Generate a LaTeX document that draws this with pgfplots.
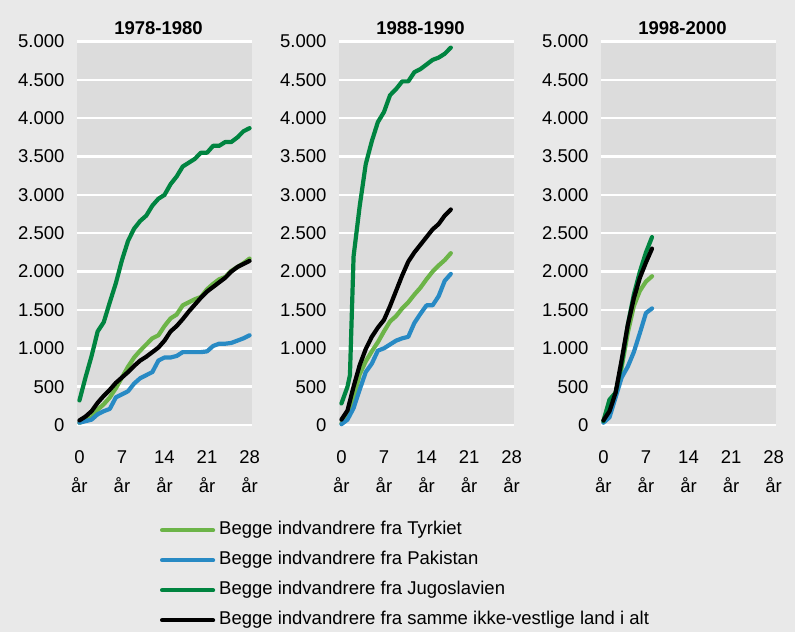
\documentclass[border=0pt]{standalone}
\usepackage{fontspec}
\setmainfont{Liberation Sans}
\usepackage{pgfplots}
\pgfplotsset{compat=1.18}
\definecolor{bgout}{RGB}{233,233,233}
\definecolor{bgin}{RGB}{220,220,220}
\definecolor{tyrk}{RGB}{108,180,72}
\definecolor{paki}{RGB}{40,138,196}
\definecolor{jugo}{RGB}{0,132,64}
\begin{document}
\begin{tikzpicture}
\fill[bgout] (0bp,0bp) rectangle (795bp,632bp);
\path[use as bounding box] (0bp,0bp) rectangle (795bp,632bp);
\pgfplotsset{
  panel/.style={
    scale only axis, width=175bp, height=383.5bp,
    anchor=south west,
    xmin=-0.4, xmax=28.4, ymin=0, ymax=5000,
    axis background/.style={fill=bgin},
    axis line style={draw=none},
    major tick length=0pt,
    ytick={0,500,...,5000},
    ymajorgrids,
    major grid style={white, line width=2.5bp},
    xtick={0,7,14,21,28},
    xticklabels={0\\år,7\\år,14\\år,21\\år,28\\år},
    xticklabel style={align=center, font=\fontsize{18.5bp}{29bp}\selectfont, yshift=-22bp},
    yticklabel style={font=\fontsize{18.5bp}{22bp}\selectfont, xshift=-9bp},
    /pgf/number format/.cd, 1000 sep={.}, assume math mode=true, /pgfplots/.cd,
    every axis title/.style={at={(0.5,1)}, anchor=south, yshift=3bp, xshift=-6bp, font=\bfseries\fontsize{18.5bp}{22bp}\selectfont},
    every axis plot/.append style={line width=4.2bp, line join=round, line cap=round},
    clip=false,
  }
}
\begin{axis}[panel, at={(77bp,207bp)}, title={1978-1980},
  legend style={at={(axis description cs:0.4743,-0.2516)}, anchor=north west,
    draw=none, fill=none, inner sep=0pt, outer sep=0pt,
    font=\fontsize{18.5bp}{22bp}\selectfont,
    nodes={text height=13.5bp, text depth=4bp, inner sep=0bp},
    row sep=12.5bp, column sep=4bp},
  legend cell align=left,
  legend image code/.code={\draw[#1, line cap=round] (0bp,0bp) -- (51bp,0bp);}]
\addplot[tyrk] coordinates {(0,30)(1,60)(2,100)(3,200)(4,270)(5,360)(6,480)(7,620)(8,760)(9,880)(10,970)(11,1050)(12,1130)(13,1170)(14,1290)(15,1390)(16,1440)(17,1560)(18,1600)(19,1640)(20,1670)(21,1770)(22,1840)(23,1900)(24,1930)(25,2010)(26,2060)(27,2110)(28,2170)};
\addlegendentry{Begge indvandrere fra Tyrkiet}
\addplot[paki] coordinates {(0,30)(1,50)(2,70)(3,140)(4,180)(5,210)(6,360)(7,400)(8,440)(9,540)(10,610)(11,650)(12,690)(13,840)(14,880)(15,880)(16,900)(17,950)(18,950)(19,950)(20,950)(21,960)(22,1030)(23,1060)(24,1060)(25,1070)(26,1100)(27,1130)(28,1170)};
\addlegendentry{Begge indvandrere fra Pakistan}
\addplot[jugo] coordinates {(0,320)(1,620)(2,900)(3,1220)(4,1340)(5,1600)(6,1850)(7,2150)(8,2400)(9,2560)(10,2660)(11,2730)(12,2860)(13,2950)(14,3000)(15,3140)(16,3240)(17,3370)(18,3420)(19,3470)(20,3550)(21,3550)(22,3640)(23,3640)(24,3690)(25,3690)(26,3750)(27,3830)(28,3870)};
\addlegendentry{Begge indvandrere fra Jugoslavien}
\addplot[black] coordinates {(0,60)(1,110)(2,180)(3,290)(4,380)(5,460)(6,550)(7,620)(8,690)(9,770)(10,840)(11,890)(12,950)(13,1010)(14,1100)(15,1220)(16,1290)(17,1380)(18,1480)(19,1570)(20,1660)(21,1740)(22,1800)(23,1860)(24,1920)(25,2000)(26,2060)(27,2100)(28,2140)};
\addlegendentry{Begge indvandrere fra samme ikke-vestlige land i alt}
\end{axis}
\begin{axis}[panel, at={(339bp,207bp)}, title={1988-1990}]
\addplot[tyrk] coordinates {(0,20)(1,100)(2,350)(3,660)(4,830)(5,960)(6,1080)(7,1220)(8,1350)(9,1420)(10,1520)(11,1600)(12,1700)(13,1790)(14,1900)(15,2000)(16,2080)(17,2150)(18,2240)};
\addplot[paki] coordinates {(0,10)(1,70)(2,220)(3,460)(4,690)(5,800)(6,970)(7,1000)(8,1050)(9,1100)(10,1130)(11,1150)(12,1330)(13,1450)(14,1560)(15,1560)(16,1680)(17,1880)(18,1970)};
\addplot[jugo] coordinates {(0,280)(1,500)(1.4,650)(2,2200)(3,2850)(4,3400)(5,3700)(6,3950)(7,4080)(8,4300)(9,4380)(10,4480)(11,4480)(12,4600)(13,4640)(14,4700)(15,4760)(16,4790)(17,4840)(18,4920)};
\addplot[black] coordinates {(0,70)(1,190)(2,500)(3,780)(4,990)(5,1150)(6,1270)(7,1370)(8,1550)(9,1750)(10,1950)(11,2130)(12,2250)(13,2350)(14,2450)(15,2550)(16,2620)(17,2730)(18,2810)};
\end{axis}
\begin{axis}[panel, at={(601bp,207bp)}, title={1998-2000}]
\addplot[tyrk] coordinates {(0,50)(1,320)(2,420)(3,750)(4,1200)(5,1550)(6,1750)(7,1870)(8,1940)};
\addplot[paki] coordinates {(0,30)(1,100)(2,360)(3,620)(4,760)(5,950)(6,1200)(7,1460)(8,1520)};
\addplot[jugo] coordinates {(0,50)(1,330)(2,420)(3,800)(4,1300)(5,1700)(6,2000)(7,2250)(8,2450)};
\addplot[black] coordinates {(0,60)(1,180)(2,420)(3,850)(4,1300)(5,1650)(6,1920)(7,2120)(8,2300)};
\end{axis}
\end{tikzpicture}
\end{document}
